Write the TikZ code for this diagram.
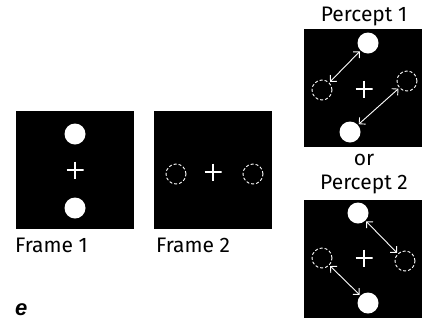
\documentclass[tikz,border=0pt]{standalone}
\usepackage{fontspec}
\setmainfont{Fira Sans}
\newfontfamily\labfont{Liberation Sans}
\usetikzlibrary{arrows.meta}

\tikzset{
  panel/.style={fill=black,draw=none,minimum size=118pt,inner sep=0pt},
  dot/.style={circle,fill=white,inner sep=0pt,minimum size=21pt},
  ring/.style={circle,draw=white,dash pattern=on 3pt off 2pt,line width=0.9pt,inner sep=0pt,minimum size=20pt},
  fix/.style={inner sep=0pt,minimum size=17pt,
    path picture={\draw[white,line width=1.7pt]
      (path picture bounding box.north) -- (path picture bounding box.south)
      (path picture bounding box.west) -- (path picture bounding box.east);}},
  motion/.style={white,line width=0.9pt,{Straight Barb[length=4.5pt,width=9pt]}-{Straight Barb[length=4.5pt,width=9pt]},shorten >=1pt,shorten <=1pt},
  caption/.style={font=\fontsize{21}{24}\selectfont,inner sep=0pt}
}

\begin{document}
\begin{tikzpicture}[x=1pt,y=-1pt]
           \useasboundingbox (0,0) rectangle (425,322);
           % frame 1
           \node[panel] (f1) at (75,170) {};
           \node[dot] (f1top) at (75,134) {};
           \node[dot] (f1bot) at (75,208) {};
           \node[fix] (f1fix) at (75,170) {};
           \node[caption,anchor=base west] (f1lab) at (15,252) {Frame 1};
           % frame 2
           \node[panel] (f2) at (213,170) {};
           \node[ring] (f2left) at (176,174) {};
           \node[ring] (f2right) at (253,174) {};
           \node[fix] (f2fix) at (213,172) {};
           \node[caption,anchor=base west] (f2lab) at (156,252) {Frame 2};
           % percept 1
           \node[panel] (p1) at (363,88) {};
           \node[dot] (p1top) at (368,43) {};
           \node[dot] (p1bot) at (350,132) {};
           \node[ring] (p1left) at (322,90) {};
           \node[ring] (p1right) at (407,81) {};
           \node[fix] (p1fix) at (364,89) {};
           \draw[motion] (p1left) -- (p1top);
           \draw[motion] (p1bot) -- (p1right);
           \node[caption,anchor=base] (p1lab) at (364,21) {Percept 1};
           \node[caption,anchor=base] (or) at (364,165) {or};
           % percept 2
           \node[panel] (p2) at (363,259) {};
           \node[dot] (p2top) at (358,213) {};
           \node[dot] (p2bot) at (368,303) {};
           \node[ring] (p2left) at (322,258) {};
           \node[ring] (p2right) at (405,261) {};
           \node[fix] (p2fix) at (364,258) {};
           \draw[motion] (p2top) -- (p2right);
           \draw[motion] (p2left) -- (p2bot);
           \node[caption,anchor=base] (p2lab) at (364,189) {Percept 2};
           % panel letter
           \node[anchor=base west,inner sep=0pt,font=\labfont\bfseries\itshape\fontsize{22}{24}\selectfont] (e) at (15,315) {e};
        \end{tikzpicture}
\end{document}
